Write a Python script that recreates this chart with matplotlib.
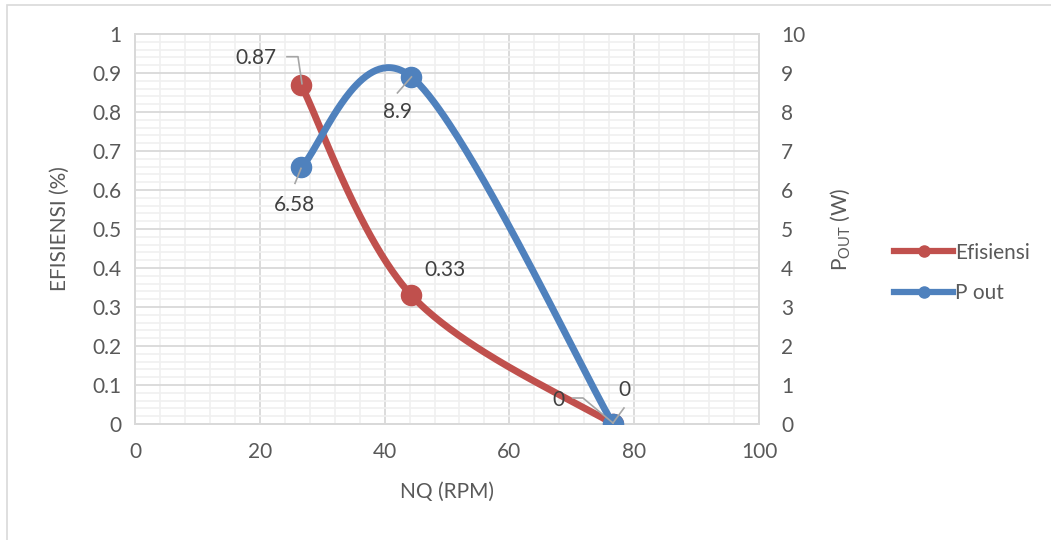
import matplotlib
matplotlib.use("Agg")
import matplotlib.pyplot as plt
import numpy as np
from matplotlib.lines import Line2D
from matplotlib.patches import Rectangle
from matplotlib.ticker import MultipleLocator
from matplotlib.transforms import IdentityTransform

plt.rcParams['font.family'] = ['Lato', 'DejaVu Sans']
plt.rcParams['mathtext.fontset'] = 'custom'
plt.rcParams['mathtext.rm'] = 'Lato'

# data
nq = [26.6, 44.3, 76.6]
efisiensi = [0.87, 0.33, 0.0]
p_out = [6.58, 8.9, 0.0]
eff_labels = ['0.87', '0.33', '0']
pout_labels = ['6.58', '8.9', '0']

RED = '#c0504d'
BLUE = '#4f81bd'
GRID = '#d9d9d9'
MINOR = '#f0f0f0'
TXT = '#595959'
FS = 15

W, H = 1051, 540
fig = plt.figure(figsize=(W / 100, H / 100), dpi=100)
L, R, T, B = 135, 759, 34, 424
ax = fig.add_axes([L / W, 1 - B / H, (R - L) / W, (B - T) / H])
ax2 = ax.twinx()

# outer chart border
fig.add_artist(Rectangle((7 / W, -0.1), (W + 50) / W, 1 - 5 / H + 0.1,
                         transform=fig.transFigure, fill=False,
                         edgecolor=GRID, lw=1.2))

ax.set_xlim(0, 100)
ax.set_ylim(0, 1)
ax2.set_ylim(0, 10)
ax.xaxis.set_major_locator(MultipleLocator(20))
ax.xaxis.set_minor_locator(MultipleLocator(4))
ax.yaxis.set_major_locator(MultipleLocator(0.1))
ax.yaxis.set_minor_locator(MultipleLocator(0.02))
ax2.yaxis.set_major_locator(MultipleLocator(1))
ax.yaxis.set_major_formatter(lambda v, p: '0' if abs(v) < 1e-9 else ('1' if abs(v - 1) < 1e-9 else f'{v:.1f}'))
ax.grid(which='major', color=GRID, lw=1.3, zorder=0)
ax.grid(which='minor', color=MINOR, lw=1.2, zorder=0)
ax.set_axisbelow(True)
for a in (ax, ax2):
    for s in a.spines.values():
        s.set_color(GRID)
        s.set_linewidth(1.3)
ax.tick_params(which='both', length=0, colors=TXT, labelsize=FS)
ax.tick_params(axis='y', pad=10)
ax.tick_params(axis='x', pad=13)
ax2.tick_params(length=0, colors=TXT, labelsize=FS, pad=16)


def smooth(xs, ys, ymax):
    # Excel-like smoothed line (Bezier through the points) in pixel space
    px = np.array(xs) / 100 * (R - L)
    py = np.array(ys) / ymax * (B - T)
    pts = np.column_stack([px, py])
    ext = np.vstack([pts[0], pts, pts[-1]])
    out = []
    t = np.linspace(0, 1, 80)[:, None]
    for i in range(len(pts) - 1):
        p0, p3 = pts[i], pts[i + 1]
        p1 = p0 + (ext[i + 2] - ext[i]) / 6
        p2 = p3 - (ext[i + 3] - ext[i + 1]) / 6
        seg = (1 - t) ** 3 * p0 + 3 * (1 - t) ** 2 * t * p1 + 3 * (1 - t) * t ** 2 * p2 + t ** 3 * p3
        out.append(seg)
    c = np.vstack(out)
    return c[:, 0] / (R - L) * 100, c[:, 1] / (B - T) * ymax


sx, sy = smooth(nq, efisiensi, 1)
ax.plot(sx, sy, color=RED, lw=5, solid_capstyle='round', zorder=3)
ax.plot(nq, efisiensi, 'o', color=RED, ms=14.5, zorder=4)
bx, by = smooth(nq, p_out, 10)
ax2.plot(bx, by, color=BLUE, lw=5, solid_capstyle='round', zorder=3)
ax2.plot(nq, p_out, 'o', color=BLUE, ms=14.5, zorder=4)

ax.set_xlabel('NQ (RPM)', fontsize=FS, color=TXT)
ax.set_ylabel('EFISIENSI (%)', fontsize=FS, color=TXT)
ax2.set_ylabel('P$_{\\mathrm{OUT}}$ (W)', fontsize=FS, color=TXT)
ax.xaxis.set_label_coords(0.5, -0.148)
ax.yaxis.set_label_coords(-0.104, 0.5)
ax2.yaxis.set_label_coords(1.112, 0.5)


def label(a, x, y, s, dx, dy, leader=None):
    # dx, dy are pixel offsets (image y goes down)
    X, Y = a.transData.transform((x, y))
    fig.text(X + dx, Y - dy, s, transform=IdentityTransform(), fontsize=FS,
             color='#404040', ha='center', va='center', zorder=10)
    if leader:
        lx = [X + p[0] for p in leader]
        ly = [Y - p[1] for p in leader]
        fig.add_artist(Line2D(lx, ly, transform=IdentityTransform(),
                              color='#a6a6a6', lw=1.2, zorder=9))


label(ax, nq[0], efisiensi[0], eff_labels[0], -45, -27, [(-14, -28), (-3, -28), (1, -1)])
label(ax, nq[1], efisiensi[1], eff_labels[1], 34, -25)
label(ax, nq[2], efisiensi[2], eff_labels[2], -55, -24, [(-40, -26), (-30, -26), (0, -1)])
label(ax2, nq[0], p_out[0], pout_labels[0], -7, 38, [(-6, 16), (0, 1)])
label(ax2, nq[1], p_out[1], pout_labels[1], -14, 35, [(-14, 16), (0, 0)])
label(ax2, nq[2], p_out[2], pout_labels[2], 11, -34, [(11, -16), (0, -1)])

handles = [Line2D([], [], color=RED, lw=4.5, marker='o', ms=8),
           Line2D([], [], color=BLUE, lw=4.5, marker='o', ms=8)]
leg = fig.legend(handles, ['Efisiensi', 'P out'], loc='center left',
                 bbox_to_anchor=(886 / W, 1 - 273 / H), frameon=False,
                 fontsize=FS, handlelength=2.8, handletextpad=0.1,
                 labelspacing=1.0, borderaxespad=0)
for t in leg.get_texts():
    t.set_color(TXT)

fig.savefig('out.png', dpi=100)
